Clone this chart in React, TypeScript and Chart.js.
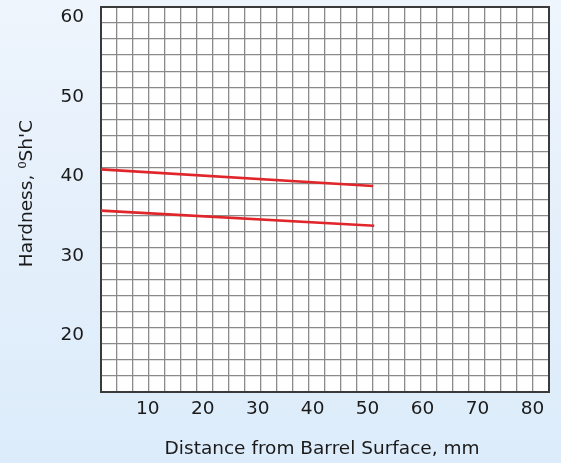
import React, { useEffect, useRef } from "react";
import { Chart, registerables } from "chart.js";

Chart.register(...registerables);

// ---- data ----
const X_TICKS = [10, 20, 30, 40, 50, 60, 70, 80];
const Y_TICKS = [20, 30, 40, 50, 60];
const X_RANGE = [1.5, 83];
const Y_RANGE = [12.9, 61.3];
const UPPER_X = [1.5, 51];
const UPPER_Y = [40.9, 38.8];
const LOWER_X = [1.5, 51.2];
const LOWER_Y = [35.7, 33.8];
const GRID_COLS = 28;
const GRID_ROWS = 24;
const X_TITLE = "Distance from Barrel Surface, mm ";
const Y_TITLE = "  Hardness, \u2070Sh'C";

const FONT = { family: "'DejaVu Sans', sans-serif", size: 18.5 };
const TEXT = "#1a1a1a";
const BORDER = "#3a3a3a";
const GRID = "#8a8a8a";
const RED = "#e0262a";

const W = 561;
const H = 463;

const plotBackground = {
  id: "plotBackground",
  beforeDraw(chart: any) {
    const { ctx, chartArea } = chart;
    if (!chartArea) return;
    ctx.save();
    ctx.fillStyle = "#ffffff";
    ctx.fillRect(chartArea.left, chartArea.top, chartArea.right - chartArea.left, chartArea.bottom - chartArea.top);
    ctx.restore();
  },
};

export default function App() {
  const ref = useRef<HTMLCanvasElement | null>(null);
  useEffect(() => {
    document.body.style.margin = "0";
    const canvas = ref.current!;
    const range = (n: number) => Array.from({ length: n + 1 }, (_, i) => ({ value: i }));
    const noPad = (s: any) => {
      s.paddingTop = 0;
      s.paddingBottom = 0;
      s.paddingLeft = 0;
      s.paddingRight = 0;
    };
    const chart = new Chart(canvas, {
      type: "line",
      data: {
        datasets: [
          {
            data: UPPER_X.map((x, i) => ({ x, y: UPPER_Y[i] })),
            borderColor: RED,
            borderWidth: 2.7,
            pointRadius: 0,
            xAxisID: "x",
            yAxisID: "y",
          },
          {
            data: LOWER_X.map((x, i) => ({ x, y: LOWER_Y[i] })),
            borderColor: RED,
            borderWidth: 2.7,
            pointRadius: 0,
            xAxisID: "x",
            yAxisID: "y",
          },
        ],
      },
      plugins: [plotBackground],
      options: {
        responsive: false,
        animation: false,
        events: [],
        layout: { padding: 0 },
        plugins: { legend: { display: false }, tooltip: { enabled: false }, title: { display: false } },
        scales: {
          xg: {
            type: "linear",
            position: "top",
            min: 0,
            max: GRID_COLS,
            afterBuildTicks: (s: any) => { s.ticks = range(GRID_COLS); },
            afterFit: (s: any) => { s.height = 7; noPad(s); },
            ticks: { display: false },
            grid: { color: GRID, lineWidth: 1.3, drawTicks: false },
            border: { display: true, color: BORDER, width: 2 },
          },
          yg: {
            type: "linear",
            position: "right",
            min: 0,
            max: GRID_ROWS,
            afterBuildTicks: (s: any) => { s.ticks = range(GRID_ROWS); },
            afterFit: (s: any) => { s.width = W - 549; noPad(s); },
            ticks: { display: false },
            grid: { color: GRID, lineWidth: 1.3, drawTicks: false },
            border: { display: true, color: BORDER, width: 2 },
          },
          x: {
            type: "linear",
            position: "bottom",
            min: X_RANGE[0],
            max: X_RANGE[1],
            afterBuildTicks: (s: any) => { s.ticks = X_TICKS.map((v) => ({ value: v })); },
            afterFit: (s: any) => { s.height = H - 392; noPad(s); },
            grid: { display: false, drawTicks: false },
            border: { display: true, color: BORDER, width: 2 },
            ticks: { color: TEXT, font: FONT, padding: 6, maxRotation: 0, autoSkip: false },
            title: {
              display: true,
              text: X_TITLE,
              color: TEXT,
              font: FONT,
              padding: { top: 0, bottom: 3 },
            },
          },
          y: {
            type: "linear",
            position: "left",
            min: Y_RANGE[0],
            max: Y_RANGE[1],
            afterBuildTicks: (s: any) => { s.ticks = Y_TICKS.map((v) => ({ value: v })); },
            afterFit: (s: any) => { s.width = 101; noPad(s); },
            grid: { display: false, drawTicks: false },
            border: { display: true, color: BORDER, width: 2 },
            ticks: { color: TEXT, font: FONT, padding: 17, autoSkip: false },
            title: {
              display: true,
              text: Y_TITLE,
              color: TEXT,
              font: FONT,
              padding: { top: 16, bottom: 0 },
            },
          },
        },
      },
    });
    return () => chart.destroy();
  }, []);
  return (
    <div
      style={{
        width: W,
        height: H,
        background: "linear-gradient(180deg, #eef5fd 0%, #e4effb 50%, #dcecfa 100%)",
      }}
    >
      <canvas ref={ref} width={W} height={H} style={{ display: "block" }} />
    </div>
  );
}
